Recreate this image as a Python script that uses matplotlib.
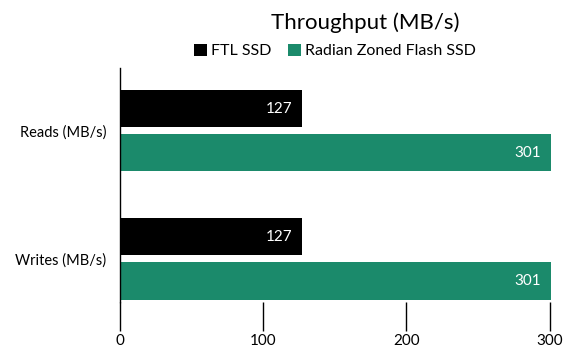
import matplotlib
matplotlib.use("Agg")
import matplotlib.pyplot as plt
import numpy as np

plt.rcParams['font.family'] = ['Lato', 'DejaVu Sans']

categories = ["Reads (MB/s)", "Writes (MB/s)"]
series_names = ["FTL SSD", "Radian Zoned Flash SSD"]
ftl = [127, 127]
radian = [301, 301]
colors = ["#000000", "#1b8a6b"]
xticks = [0, 100, 200, 300]

W, H = 573, 356
fig = plt.figure(figsize=(W/100, H/100), dpi=100)
ax = fig.add_axes([120/W, 1-302/H, (551-120)/W, (302-68)/H])

y = np.arange(len(categories))
bh = 0.29
off = 0.172
b1 = ax.barh(y - off, ftl, height=bh, color=colors[0], label=series_names[0])
b2 = ax.barh(y + off, radian, height=bh, color=colors[1], label=series_names[1])
for bars in (b1, b2):
    ax.bar_label(bars, labels=[f"{v:g}" for v in bars.datavalues], label_type='edge',
                 padding=-7, color='white', fontsize=11)
for t in ax.texts:
    t.set_ha('right')

ax.set_xlim(0, 301)
ax.set_ylim(1.336, -0.49)
ax.set_yticks(y)
ax.set_yticklabels(categories, fontsize=10.5)
ax.tick_params(axis='y', length=0, pad=10)
ax.set_xticks(xticks)
ax.set_xticklabels([str(t) for t in xticks], fontsize=11)
ax.tick_params(axis='x', length=21, width=1, pad=2)
for s in ['top', 'right', 'bottom']:
    ax.spines[s].set_visible(False)
ax.spines['left'].set_linewidth(1)

fig.text(365/W, 1-23/H, "Throughput (MB/s)", ha='center', va='center', fontsize=16)
fig.legend(handles=[b1, b2], loc='center', bbox_to_anchor=(335/W, 1-51/H), ncol=2,
           frameon=False, fontsize=11.5, handlelength=0.8, handleheight=0.8,
           handletextpad=0.3, columnspacing=1.0, borderaxespad=0)

fig.savefig("out.png", dpi=100)
